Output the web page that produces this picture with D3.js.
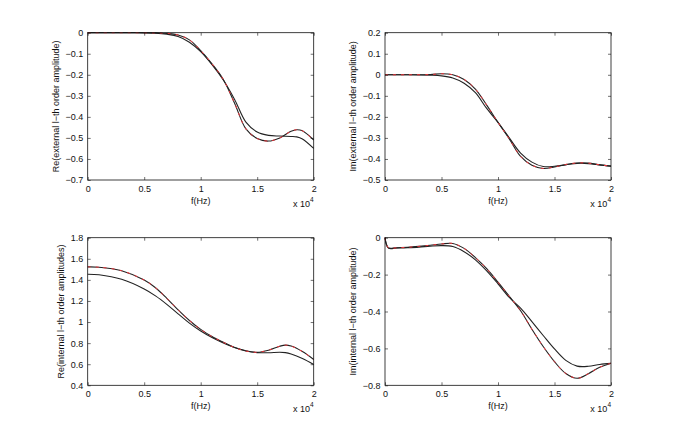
<!DOCTYPE html>
<html>
<head>
<meta charset="utf-8">
<script src="https://cdn.jsdelivr.net/npm/d3@7"></script>
<style>
  body { margin: 0; background: #fff; }
  text { font-family: "Liberation Sans", Arial, sans-serif; fill: #111; }
</style>
</head>
<body>
<svg id="fig" width="675" height="434"></svg>
<script>
// frequencies are in units of 1e4 Hz (the axis shows "x 10^4")
const freqReExt = [0, 0.2, 0.4, 0.6, 0.7, 0.8, 0.9, 1.0, 1.1, 1.2, 1.3, 1.4, 1.5, 1.6, 1.7, 1.8, 1.85, 1.9, 2.0];
const reExtExact = [0, 0, 0, -0.001, -0.003, -0.011, -0.034, -0.085, -0.148, -0.222, -0.335, -0.457, -0.503, -0.515, -0.5, -0.468, -0.461, -0.466, -0.51];
const reExtApprox = [0, 0, 0, -0.002, -0.007, -0.018, -0.045, -0.09, -0.152, -0.225, -0.317, -0.425, -0.472, -0.488, -0.491, -0.493, -0.495, -0.505, -0.55];

const freqImExt = [0, 0.2, 0.4, 0.5, 0.6, 0.7, 0.8, 0.9, 1.0, 1.1, 1.2, 1.3, 1.4, 1.5, 1.6, 1.7, 1.8, 1.9, 2.0];
const imExtExact = [0, 0, 0.001, 0.005, 0.0, -0.022, -0.068, -0.144, -0.226, -0.305, -0.388, -0.43, -0.445, -0.438, -0.426, -0.419, -0.42, -0.428, -0.434];
const imExtApprox = [0, 0, -0.002, -0.005, -0.015, -0.04, -0.085, -0.16, -0.226, -0.3, -0.372, -0.415, -0.436, -0.435, -0.428, -0.421, -0.422, -0.428, -0.434];

const freqReInt = [0, 0.1, 0.3, 0.5, 0.6, 0.7, 0.8, 0.9, 1.0, 1.1, 1.2, 1.3, 1.4, 1.5, 1.6, 1.7, 1.75, 1.8, 1.9, 2.0];
const reIntExact = [1.523, 1.52, 1.487, 1.398, 1.325, 1.225, 1.115, 1.015, 0.93, 0.862, 0.808, 0.758, 0.725, 0.713, 0.733, 0.771, 0.781, 0.772, 0.72, 0.645];
const reIntApprox = [1.453, 1.448, 1.405, 1.313, 1.248, 1.168, 1.078, 0.99, 0.915, 0.853, 0.802, 0.758, 0.727, 0.71, 0.709, 0.713, 0.71, 0.697, 0.655, 0.598];

const freqImInt = [0, 0.03, 0.1, 0.2, 0.3, 0.4, 0.5, 0.6, 0.7, 0.8, 0.9, 1.0, 1.1, 1.2, 1.3, 1.4, 1.5, 1.6, 1.7, 1.8, 1.9, 2.0];
const imIntExact = [0, -0.055, -0.055, -0.052, -0.047, -0.041, -0.034, -0.031, -0.058, -0.108, -0.168, -0.241, -0.318, -0.396, -0.496, -0.59, -0.672, -0.736, -0.762, -0.737, -0.702, -0.68];
const imIntApprox = [0, -0.056, -0.056, -0.054, -0.051, -0.046, -0.043, -0.048, -0.076, -0.12, -0.18, -0.25, -0.324, -0.382, -0.455, -0.53, -0.603, -0.665, -0.696, -0.697, -0.687, -0.681];

const xTicks = [0, 0.5, 1, 1.5, 2];
const yTicksReExt = [0, -0.1, -0.2, -0.3, -0.4, -0.5, -0.6, -0.7];
const yTicksImExt = [0.2, 0.1, 0, -0.1, -0.2, -0.3, -0.4, -0.5];
const yTicksReInt = [1.8, 1.6, 1.4, 1.2, 1, 0.8, 0.6, 0.4];
const yTicksImInt = [0, -0.2, -0.4, -0.6, -0.8];

const yLabels = [
  "Re(external l\u2212th order amplitude)",
  "Im(external l\u2212th order amplitude)",
  "Re(internal l\u2212th order amplitudes)",
  "Im(internal l\u2212th order amplitude)"
];

const panels = [
  { f: freqReExt, exact: reExtExact, approx: reExtApprox, yTicks: yTicksReExt, label: yLabels[0],
    box: { left: 87.7, right: 313.7, top: 32.7, bottom: 180 } },
  { f: freqImExt, exact: imExtExact, approx: imExtApprox, yTicks: yTicksImExt, label: yLabels[1],
    box: { left: 385, right: 611, top: 32.7, bottom: 180 } },
  { f: freqReInt, exact: reIntExact, approx: reIntApprox, yTicks: yTicksReInt, label: yLabels[2],
    box: { left: 87.7, right: 313.7, top: 237.7, bottom: 385.3 } },
  { f: freqImInt, exact: imIntExact, approx: imIntApprox, yTicks: yTicksImInt, label: yLabels[3],
    box: { left: 385, right: 611, top: 237.7, bottom: 385.3 } }
];

const fmt = v => String(+v.toFixed(2)).replace("-", "\u2212");
const svg = d3.select("#fig");
svg.append("rect").attr("width", 675).attr("height", 434).attr("fill", "#fff");

panels.forEach(p => {
  const b = p.box;
  const x = d3.scaleLinear().domain([0, 2]).range([b.left, b.right]);
  const y = d3.scaleLinear().domain(d3.extent(p.yTicks)).range([b.bottom, b.top]);
  const g = svg.append("g");

  const line = d3.line().curve(d3.curveCatmullRom.alpha(0.5))
    .x(d => x(d[0])).y(d => y(d[1]));

  // smoother curve, plain black
  g.append("path").datum(d3.zip(p.f, p.approx))
    .attr("d", line).attr("fill", "none").attr("stroke", "#222").attr("stroke-width", 1.1);
  // the other one: black with red dashes over it
  g.append("path").datum(d3.zip(p.f, p.exact))
    .attr("d", line).attr("fill", "none").attr("stroke", "#222").attr("stroke-width", 1.1);
  g.append("path").datum(d3.zip(p.f, p.exact))
    .attr("d", line).attr("fill", "none").attr("stroke", "#f0343a").attr("stroke-width", 1)
    .attr("stroke-dasharray", "3,5");

  const style = ax => {
    ax.attr("font-size", 9).attr("font-family", null);
    ax.select(".domain").remove();
    ax.selectAll(".tick line").attr("stroke", "#111").attr("stroke-width", 0.6);
    ax.selectAll("text").attr("fill", "#111");
  };

  g.append("g").attr("transform", `translate(0,${b.bottom})`)
    .call(d3.axisBottom(x).tickValues(xTicks).tickFormat(fmt).tickSizeInner(-3).tickSizeOuter(0).tickPadding(5.6))
    .call(style);
  g.append("g").attr("transform", `translate(0,${b.top})`)
    .call(d3.axisTop(x).tickValues(xTicks).tickFormat("").tickSizeInner(-3).tickSizeOuter(0))
    .call(style);
  const leftAx = g.append("g").attr("transform", `translate(${b.left},0)`)
    .call(d3.axisLeft(y).tickValues(p.yTicks).tickFormat(fmt).tickSizeInner(-3).tickSizeOuter(0).tickPadding(4.4))
    .call(style);
  g.append("g").attr("transform", `translate(${b.right},0)`)
    .call(d3.axisRight(y).tickValues(p.yTicks).tickFormat("").tickSizeInner(-3).tickSizeOuter(0))
    .call(style);

  g.append("rect")
    .attr("x", b.left).attr("y", b.top)
    .attr("width", b.right - b.left).attr("height", b.bottom - b.top)
    .attr("fill", "none").attr("stroke", "#111").attr("stroke-width", 0.8);

  // y label to the left of the widest tick label
  const bb = leftAx.node().getBBox();
  const lx = b.left + bb.x - 7;
  const cy = (b.top + b.bottom) / 2;
  g.append("text")
    .attr("transform", `translate(${lx},${cy}) rotate(-90)`)
    .attr("text-anchor", "middle").attr("font-size", 9)
    .text(p.label);

  g.append("text")
    .attr("x", (b.left + b.right) / 2).attr("y", b.bottom + 23.5)
    .attr("text-anchor", "middle").attr("font-size", 9)
    .text("f(Hz)");

  const mult = g.append("text")
    .attr("x", b.right).attr("y", b.bottom + 26.5)
    .attr("text-anchor", "end").attr("font-size", 9);
  mult.append("tspan").text("x 10");
  mult.append("tspan").attr("dy", -4.5).attr("font-size", 6.5).text("4");
});
</script>
</body>
</html>
